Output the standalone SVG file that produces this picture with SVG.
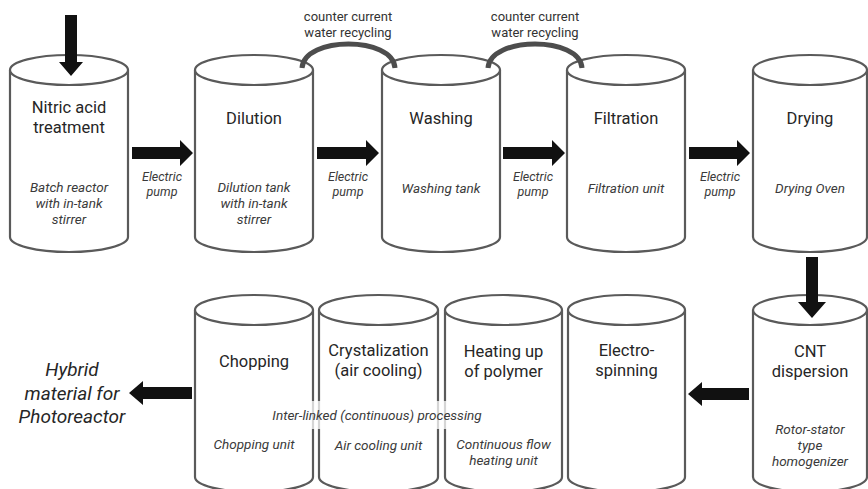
<svg xmlns="http://www.w3.org/2000/svg" width="868" height="489" viewBox="0 0 868 489">
<defs>
<style>
.cyl{fill:#fff;stroke:#5a5a5a;stroke-width:2.2}
.t{font-family:Roboto,"Noto Sans",sans-serif;font-size:16.5px;fill:#262626;text-anchor:middle}
.s{font-family:Roboto,"Noto Sans",sans-serif;font-size:13.5px;font-style:italic;fill:#3a3a3a;text-anchor:middle}
.p{font-family:Roboto,"Noto Sans",sans-serif;font-size:12.5px;font-style:italic;fill:#3a3a3a;text-anchor:middle}
.c{font-family:Roboto,"Noto Sans",sans-serif;font-size:13px;fill:#333;text-anchor:middle}
.h{font-family:Roboto,"Noto Sans",sans-serif;font-size:19px;font-style:italic;fill:#262626;text-anchor:middle}
.arr{fill:#111}
.rec{fill:none;stroke:#4d4d4d;stroke-width:5}
</style>
</defs>
<rect width="868" height="489" fill="#fff"/>

<g id="nitric">
<path class="cyl" d="M10 70 L10 237 A59 15 0 0 0 128 237 L128 70"/>
<ellipse class="cyl" cx="69" cy="70" rx="59" ry="15"/>
<text class="t" x="69" y="113">Nitric acid<tspan x="69" dy="20">treatment</tspan></text>
<text class="s" x="69" y="192">Batch reactor<tspan x="69" dy="16">with in-tank</tspan><tspan x="69" dy="16">stirrer</tspan></text>
</g>

<g id="dilution">
<path class="cyl" d="M195 70 L195 237 A59 15 0 0 0 313 237 L313 70"/>
<ellipse class="cyl" cx="254" cy="70" rx="59" ry="15"/>
<text class="t" x="254" y="124">Dilution</text>
<text class="s" x="254" y="192">Dilution tank<tspan x="254" dy="16">with in-tank</tspan><tspan x="254" dy="16">stirrer</tspan></text>
</g>

<g id="washing">
<path class="cyl" d="M382 70 L382 237 A59 15 0 0 0 500 237 L500 70"/>
<ellipse class="cyl" cx="441" cy="70" rx="59" ry="15"/>
<text class="t" x="441" y="124">Washing</text>
<text class="s" x="441" y="193">Washing tank</text>
</g>

<g id="filtration">
<path class="cyl" d="M567 70 L567 237 A59 15 0 0 0 685 237 L685 70"/>
<ellipse class="cyl" cx="626" cy="70" rx="59" ry="15"/>
<text class="t" x="626" y="124">Filtration</text>
<text class="s" x="626" y="193">Filtration unit</text>
</g>

<g id="drying">
<path class="cyl" d="M753 70 L753 237 A57 15 0 0 0 867 237 L867 70"/>
<ellipse class="cyl" cx="810" cy="70" rx="57" ry="15"/>
<text class="t" x="810" y="124">Drying</text>
<text class="s" x="810" y="193">Drying Oven</text>
</g>

<g id="cnt">
<path class="cyl" d="M753 310 L753 477 A57 15 0 0 0 867 477 L867 310"/>
<ellipse class="cyl" cx="810" cy="310" rx="57" ry="15"/>
<text class="t" x="810" y="357">CNT<tspan x="810" dy="20">dispersion</tspan></text>
<text class="s" x="810" y="434">Rotor-stator<tspan x="810" dy="16">type</tspan><tspan x="810" dy="16">homogenizer</tspan></text>
</g>

<g id="electrospinning">
<path class="cyl" d="M568 310 L568 477 A58.5 15 0 0 0 685 477 L685 310"/>
<ellipse class="cyl" cx="626.5" cy="310" rx="58.5" ry="15"/>
<text class="t" x="626.5" y="356">Electro-<tspan x="626.5" dy="20">spinning</tspan></text>
</g>

<g id="heating">
<path class="cyl" d="M445 310 L445 477 A58.5 15 0 0 0 562 477 L562 310"/>
<ellipse class="cyl" cx="503.5" cy="310" rx="58.5" ry="15"/>
<text class="t" x="503.5" y="357">Heating up<tspan x="503.5" dy="20">of polymer</tspan></text>
<text class="s" x="503.5" y="449">Continuous flow<tspan x="503.5" dy="16">heating unit</tspan></text>
</g>

<g id="crystalization">
<path class="cyl" d="M319 310 L319 477 A59.5 15 0 0 0 438 477 L438 310"/>
<ellipse class="cyl" cx="378.5" cy="310" rx="59.5" ry="15"/>
<text class="t" x="378.5" y="356">Crystalization<tspan x="378.5" dy="20">(air cooling)</tspan></text>
<text class="s" x="378.5" y="450">Air cooling unit</text>
</g>

<g id="chopping">
<path class="cyl" d="M195 310 L195 477 A59 15 0 0 0 313 477 L313 310"/>
<ellipse class="cyl" cx="254" cy="310" rx="59" ry="15"/>
<text class="t" x="254" y="367">Chopping</text>
<text class="s" x="254" y="449">Chopping unit</text>
</g>

<g id="interlinked">
<rect x="268" y="401" width="218" height="28" fill="#fff" fill-opacity="0.75"/>
<text class="s" x="377" y="420">Inter-linked (continuous) processing</text>
</g>

<g id="hybrid">
<text class="h" x="72" y="376">Hybrid<tspan x="72" dy="24">material for</tspan><tspan x="72" dy="23">Photoreactor</tspan></text>
</g>

<g id="connectors">
<path class="rec" d="M302 68 C304 36, 393 36, 395 68"/>
<path class="rec" d="M488 68 C490 36, 580 36, 582 68"/>
<polygon class="arr" points="65,15 77,15 77,62 83,62 71,76 59,62 65,62"/>
<polygon class="arr" points="132,147 180,147 180,140 193,153 180,166 180,159 132,159"/>
<polygon class="arr" points="317,147 366,147 366,140 379,153 366,166 366,159 317,159"/>
<polygon class="arr" points="503,147 552,147 552,140 565,153 552,166 552,159 503,159"/>
<polygon class="arr" points="689,147 737,147 737,140 750,153 737,166 737,159 689,159"/>
<polygon class="arr" points="806,257 818,257 818,302 826,302 812,318 798,302 806,302"/>
<polygon class="arr" points="749,388 702,388 702,382 688,394 702,406 702,400 749,400"/>
<polygon class="arr" points="192,387 143,387 143,381 129,393 143,405 143,399 192,399"/>
</g>

<g id="labels">
<text class="c" x="348" y="21">counter current<tspan x="348" dy="16">water recycling</tspan></text>
<text class="c" x="535" y="21">counter current<tspan x="535" dy="16">water recycling</tspan></text>
<text class="p" x="162" y="181">Electric<tspan x="162" dy="15">pump</tspan></text>
<text class="p" x="348" y="181">Electric<tspan x="348" dy="15">pump</tspan></text>
<text class="p" x="533" y="181">Electric<tspan x="533" dy="15">pump</tspan></text>
<text class="p" x="720" y="181">Electric<tspan x="720" dy="15">pump</tspan></text>
</g>
</svg>
